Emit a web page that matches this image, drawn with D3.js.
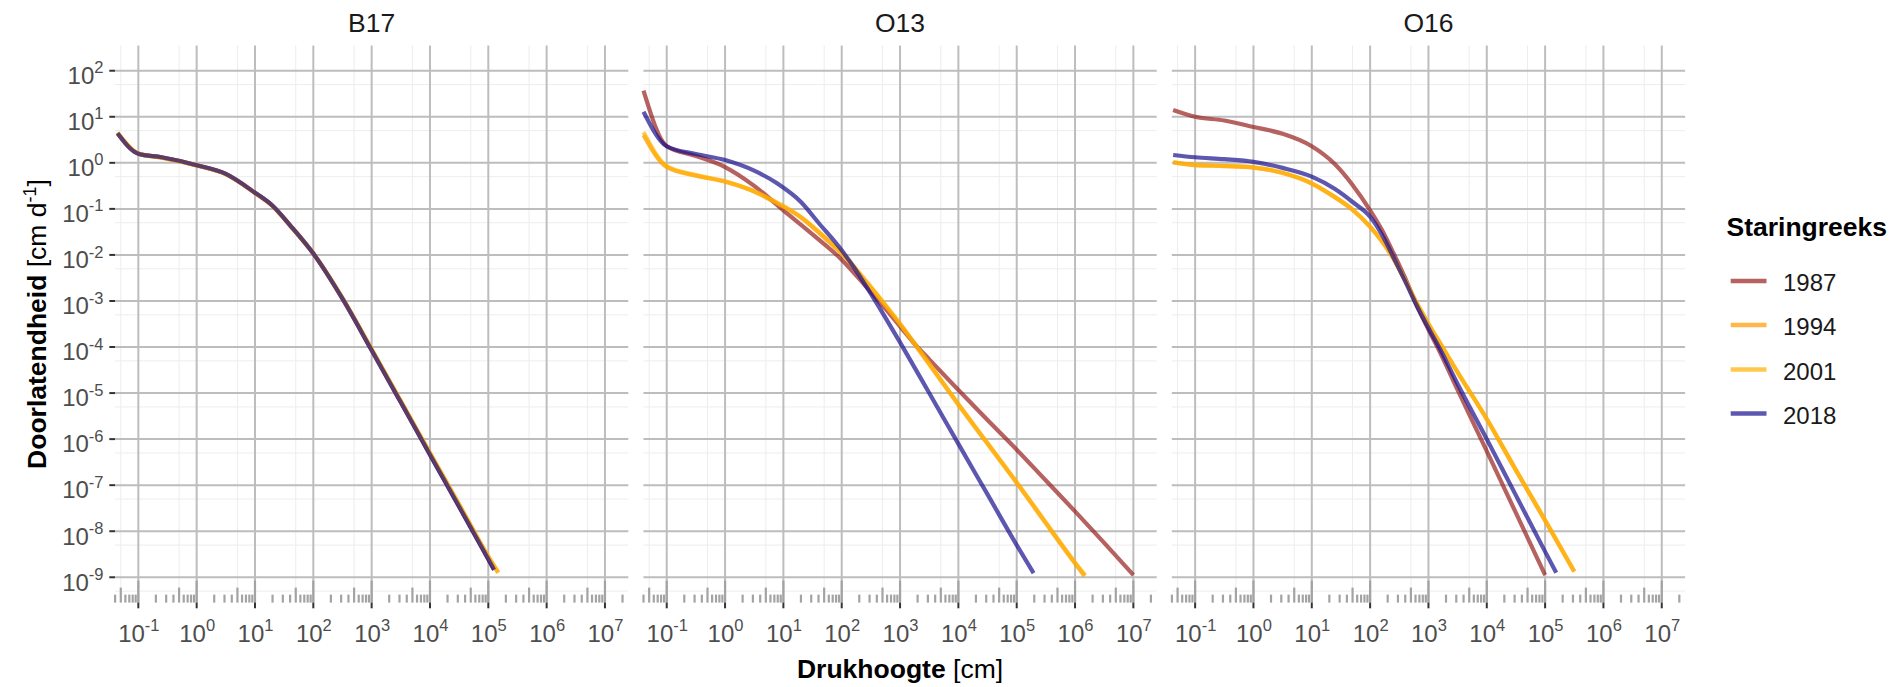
<!DOCTYPE html>
<html>
<head>
<meta charset="utf-8">
<script src="https://cdn.jsdelivr.net/npm/d3@7"></script>
<style>
  body { margin: 0; background: #fff; }
  text { font-family: "Liberation Sans", Arial, sans-serif; }
</style>
</head>
<body>
<svg id="chart"></svg>
<script>
// panels (bodemsoorten) and series (Staringreeks jaar)
let panels = ['B17', 'O13', 'O16']
let years = ['1987', '1994', '2001', '2018']
let colors = ['#951f1c', '#ff9900', '#ffb000', '#18108e']

// tick exponents
let xTickExp = [-1, 0, 1, 2, 3, 4, 5, 6, 7]
let yTickExp = [-9, -8, -7, -6, -5, -4, -3, -2, -1, 0, 1, 2]

// drukhoogte h [cm] en doorlatendheid K [cm/d]
// B17
let h_B17 = [0.044, 0.1, 0.25, 1, 3.16, 10, 20, 40, 100, 316, 1000, 3160, 1e4, 3.16e4, 1e5, 1.26e5]
let k_B17 = [4.4, 1.58, 1.32, 0.89, 0.575, 0.224, 0.117, 0.044, 0.0107, 1.12e-3, 8.5e-5, 6.3e-6, 4.6e-7, 3.4e-8, 2.45e-9, 1.45e-9]
let h_B17_b = [0.044, 0.1, 0.25, 1, 3.16, 10, 20, 40, 100, 316, 1000, 3160, 1e4, 3.16e4, 1e5, 1.48e5]
let k_B17_b = [4.5, 1.6, 1.3, 0.88, 0.57, 0.222, 0.115, 0.0435, 0.0108, 1.15e-3, 8.9e-5, 6.7e-6, 5.0e-7, 3.8e-8, 2.8e-9, 1.26e-9]

// O13
let h_O13_1987 = [0.04, 0.1, 0.316, 1, 3.16, 10, 31.6, 100, 275, 589, 1000, 1778, 3162, 1e4, 3.16e4, 1e5, 3.16e5, 1e6, 3.16e6, 1e7]
let k_O13_1987 = [37, 2.29, 1.41, 0.81, 0.316, 0.093, 0.028, 7.9e-3, 1.9e-3, 6.3e-4, 2.8e-4, 1.17e-4, 5.4e-5, 1.17e-5, 2.6e-6, 5.9e-7, 1.26e-7, 2.7e-8, 5.6e-9, 1.12e-9]
let h_O13_1994 = [0.04, 0.1, 0.316, 1, 2.75, 7.1, 19, 56, 100, 275, 589, 1000, 1413, 3162, 1e4, 3.16e4, 1e5, 3.16e5, 1e6, 1.45e6]
let k_O13_1994 = [4.0, 0.81, 0.525, 0.39, 0.257, 0.141, 0.068, 0.021, 0.0107, 2.4e-3, 7.4e-4, 3.16e-4, 1.74e-4, 4.2e-5, 5.6e-6, 7.9e-7, 1.12e-7, 1.48e-8, 2.0e-9, 1.07e-9]
let h_O13_2001 = [0.04, 0.1, 0.316, 1, 2.75, 7.1, 19, 56, 100, 275, 589, 1000, 1413, 3162, 1e4, 3.16e4, 1e5, 3.16e5, 1e6, 1.5e6]
let k_O13_2001 = [4.6, 0.85, 0.54, 0.4, 0.26, 0.145, 0.07, 0.022, 0.0112, 2.5e-3, 7.6e-4, 3.2e-4, 1.78e-4, 4.4e-5, 5.8e-6, 8.2e-7, 1.16e-7, 1.55e-8, 2.1e-9, 1.1e-9]
let h_O13_2018 = [0.04, 0.1, 0.316, 1, 3.16, 7.9, 20, 40, 100, 158, 275, 525, 1000, 3162, 1e4, 3.16e4, 1e5, 1.95e5]
let k_O13_2018 = [12.9, 2.29, 1.55, 1.15, 0.676, 0.355, 0.141, 0.05, 0.0126, 5.6e-3, 1.9e-3, 5.0e-4, 1.26e-4, 1e-5, 7.9e-7, 6.3e-8, 5.0e-9, 1.23e-9]

// O16
let h_O16_1987 = [0.042, 0.1, 0.316, 1, 3.16, 10, 25, 50, 100, 158, 251, 398, 631, 1000, 1585, 3162, 1e4, 3.16e4, 1e5]
let k_O16_1987 = [14.1, 10, 8.3, 6.0, 4.27, 2.29, 0.93, 0.331, 0.093, 0.0355, 0.011, 3.16e-3, 7.9e-4, 2.4e-4, 7.6e-5, 1.17e-5, 5.5e-7, 2.5e-8, 1.12e-9]
let h_O16_1994 = [0.042, 0.1, 0.316, 1, 3.16, 10, 25, 50, 100, 158, 251, 398, 631, 1000, 1585, 3162, 1e4, 3.16e4, 1e5, 3.16e5]
let k_O16_1994 = [1.02, 0.89, 0.85, 0.79, 0.6, 0.355, 0.178, 0.0955, 0.0407, 0.02, 8.3e-3, 2.8e-3, 8.9e-4, 3.16e-4, 1.2e-4, 2.8e-5, 2.7e-6, 2.1e-7, 1.7e-8, 1.32e-9]
let k_O16_2001 = [1.03, 0.9, 0.86, 0.8, 0.61, 0.36, 0.18, 0.097, 0.041, 0.0202, 8.4e-3, 2.85e-3, 9.0e-4, 3.2e-4, 1.22e-4, 2.85e-5, 2.75e-6, 2.15e-7, 1.75e-8, 1.35e-9]
let h_O16_2018 = [0.042, 0.1, 0.316, 1, 3.16, 10, 25, 50, 100, 158, 251, 398, 631, 1000, 1585, 3162, 1e4, 3.16e4, 1e5, 1.55e5]
let k_O16_2018 = [1.48, 1.32, 1.2, 1.05, 0.776, 0.5, 0.269, 0.141, 0.0676, 0.0282, 8.9e-3, 2.7e-3, 7.9e-4, 2.6e-4, 8.9e-5, 1.58e-5, 1e-6, 6.0e-8, 3.6e-9, 1.26e-9]

let curves = {
    B17: [[h_B17, k_B17], [h_B17_b, k_B17_b], [h_B17_b, k_B17_b], [h_B17, k_B17]],
    O13: [[h_O13_1987, k_O13_1987], [h_O13_1994, k_O13_1994], [h_O13_2001, k_O13_2001], [h_O13_2018, k_O13_2018]],
    O16: [[h_O16_1987, k_O16_1987], [h_O16_1994, k_O16_1994], [h_O16_1994, k_O16_2001], [h_O16_2018, k_O16_2018]]
}

let width = 1899
let height = 687
let panelLeft = 115
let panelStep = 528.4
let panelWidth = 513.3
let plotTop = 45.4
let plotBottom = 602.6

let svg = d3.select('#chart').attr('width', width).attr('height', height)

let x = d3.scaleLog().domain([Math.pow(10, -1.4), Math.pow(10, 7.4)]).range([0, panelWidth])
let y = d3.scaleLog().domain([Math.pow(10, -9.55), Math.pow(10, 2.55)]).range([plotBottom, plotTop])

let xMajor = xTickExp.map(e => Math.pow(10, e))
let yMajor = yTickExp.map(e => Math.pow(10, e))
let xMinor = d3.range(-2, 8).map(e => 5 * Math.pow(10, e)).filter(v => x(v) > 0 && x(v) < panelWidth)
let yMinor = d3.range(-10, 3).map(e => 5 * Math.pow(10, e)).filter(v => y(v) > plotTop && y(v) < plotBottom)

// superscript label "10^e"
let powText = (sel, e) => {
    sel.append('tspan').text('10')
    sel.append('tspan').attr('dy', -10.7).attr('font-size', 16.5).text(e)
}

let line = d3.line()
    .x(d => x(d[0]))
    .y(d => y(d[1]))
    .curve(d3.curveMonotoneX)

panels.forEach((name, i) => {
    let g = svg.append('g').attr('transform', 'translate(' + (panelLeft + i * panelStep) + ',0)')

    // minor grid
    g.selectAll('.xminor').data(xMinor).enter().append('line')
        .attr('x1', d => x(d)).attr('x2', d => x(d))
        .attr('y1', plotTop).attr('y2', plotBottom)
        .attr('stroke', '#ededed').attr('stroke-width', 1)
    g.selectAll('.yminor').data(yMinor).enter().append('line')
        .attr('x1', 0).attr('x2', panelWidth)
        .attr('y1', d => y(d)).attr('y2', d => y(d))
        .attr('stroke', '#ededed').attr('stroke-width', 1)

    // major grid
    g.selectAll('.xmajor').data(xMajor).enter().append('line')
        .attr('x1', d => x(d)).attr('x2', d => x(d))
        .attr('y1', plotTop).attr('y2', plotBottom)
        .attr('stroke', '#bdbdbd').attr('stroke-width', 2)
    g.selectAll('.ymajor').data(yMajor).enter().append('line')
        .attr('x1', 0).attr('x2', panelWidth)
        .attr('y1', d => y(d)).attr('y2', d => y(d))
        .attr('stroke', '#bdbdbd').attr('stroke-width', 2)

    // log ticks along the bottom
    let logTicks = []
    d3.range(-2, 8).forEach(e => {
        d3.range(1, 10).forEach(m => {
            let v = m * Math.pow(10, e)
            if (x(v) >= 0 && x(v) <= panelWidth) logTicks.push({ v: v, len: m === 1 ? 22 : (m === 5 ? 15 : 8) })
        })
    })
    g.selectAll('.logtick').data(logTicks).enter().append('line')
        .attr('x1', d => x(d.v)).attr('x2', d => x(d.v))
        .attr('y1', plotBottom).attr('y2', d => plotBottom - d.len)
        .attr('stroke', '#a3a3a3').attr('stroke-width', 2.2)

    // x axis ticks and labels
    g.selectAll('.xtick').data(xMajor).enter().append('line')
        .attr('x1', d => x(d)).attr('x2', d => x(d))
        .attr('y1', plotBottom).attr('y2', plotBottom + 5.7)
        .attr('stroke', '#333333').attr('stroke-width', 2)
    xTickExp.forEach(e => {
        let t = g.append('text')
            .attr('x', x(Math.pow(10, e)) + 0.5).attr('y', 641.7)
            .attr('text-anchor', 'middle')
            .attr('font-size', 24).attr('fill', '#4d4d4d')
        powText(t, e)
    })

    // curves
    curves[name].forEach((c, j) => {
        let pts = c[0].map((h, k) => [h, c[1][k]])
        g.append('path')
            .datum(pts)
            .attr('d', line)
            .attr('fill', 'none')
            .attr('stroke', colors[j])
            .attr('stroke-opacity', 0.7)
            .attr('stroke-width', 4.2)
            .attr('stroke-linejoin', 'round')
    })

    // strip title
    g.append('text')
        .attr('x', panelWidth / 2).attr('y', 32.3)
        .attr('text-anchor', 'middle')
        .attr('font-size', 26.5).attr('fill', '#1a1a1a')
        .text(name)
})

// y axis ticks + labels (first panel only)
svg.selectAll('.ytick').data(yMajor).enter().append('line')
    .attr('x1', panelLeft - 5.7).attr('x2', panelLeft)
    .attr('y1', d => y(d)).attr('y2', d => y(d))
    .attr('stroke', '#333333').attr('stroke-width', 2)
yTickExp.forEach(e => {
    let t = svg.append('text')
        .attr('x', 103.5).attr('y', y(Math.pow(10, e)) + 13.3)
        .attr('text-anchor', 'end')
        .attr('font-size', 24).attr('fill', '#4d4d4d')
    powText(t, e)
})

// axis titles
let xt = svg.append('text')
    .attr('x', panelLeft + panelStep + panelWidth / 2).attr('y', 678.3)
    .attr('text-anchor', 'middle').attr('font-size', 26.5).attr('fill', '#000')
xt.append('tspan').attr('font-weight', 'bold').text('Drukhoogte')
xt.append('tspan').text(' [cm]')

let yt = svg.append('text')
    .attr('transform', 'translate(46,' + ((plotTop + plotBottom) / 2) + ') rotate(-90)')
    .attr('text-anchor', 'middle').attr('font-size', 26.5).attr('fill', '#000')
yt.append('tspan').attr('font-weight', 'bold').text('Doorlatendheid')
yt.append('tspan').text(' [cm d')
yt.append('tspan').attr('dy', -10).attr('font-size', 18).text('-1')
yt.append('tspan').attr('dy', 10).text(']')

// legend
let legend = svg.append('g')
legend.append('text')
    .attr('x', 1726.5).attr('y', 236)
    .attr('font-size', 26.5).attr('font-weight', 'bold').attr('fill', '#000')
    .text('Staringreeks')
let keyY = [281, 325, 369.5, 413.5]
years.forEach((yr, j) => {
    legend.append('line')
        .attr('x1', 1730.7).attr('x2', 1766.5)
        .attr('y1', keyY[j]).attr('y2', keyY[j])
        .attr('stroke', colors[j]).attr('stroke-opacity', 0.7).attr('stroke-width', 4.5)
    legend.append('text')
        .attr('x', 1783).attr('y', keyY[j] + 10)
        .attr('font-size', 24).attr('fill', '#1a1a1a')
        .text(yr)
})
</script>
</body>
</html>
